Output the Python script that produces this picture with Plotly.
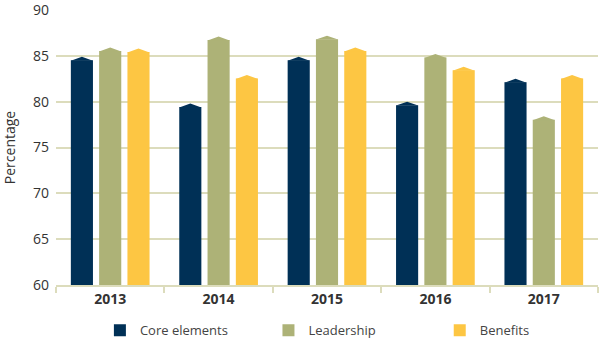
import plotly.graph_objects as go

years = ["2013", "2014", "2015", "2016", "2017"]
series_names = ["Core elements", "Leadership", "Benefits"]
core = [84.9, 79.8, 84.9, 80.0, 82.5]
leadership = [85.9, 87.1, 87.2, 85.2, 78.4]
benefits = [85.8, 82.9, 85.9, 83.8, 82.9]
colors = ["#003056", "#adb277", "#fdc643"]

values = [core, leadership, benefits]
legend_ids = ["legend", "legend2", "legend3"]
legend_x = [0.081, 0.392, 0.708]
bar_w = 0.204
spacing = 0.261
peak = 0.38

fig = go.Figure()
for i, (name, vals, col) in enumerate(zip(series_names, values, colors)):
    off = (i - 1) * spacing
    xs = [k + off for k in range(len(years))]
    fig.add_trace(go.Bar(
        x=xs, y=[v - peak for v in vals], width=bar_w, name=name,
        legend=legend_ids[i],
        marker=dict(color=col, line=dict(width=0)), hoverinfo="skip"))
    px, py = [], []
    for x, v in zip(xs, vals):
        px += [x - bar_w / 2, x, x + bar_w / 2, x - bar_w / 2, None]
        py += [v - peak - 0.05, v, v - peak - 0.05, v - peak - 0.05, None]
    fig.add_trace(go.Scatter(
        x=px, y=py, mode="lines", fill="toself", fillcolor=col,
        line=dict(width=0, color=col), showlegend=False, hoverinfo="skip"))

grid = "#dcdcbc"
leg_common = dict(orientation="h", xanchor="left", y=-0.165, yanchor="middle",
                  font=dict(size=13, color="#444444"), bgcolor="rgba(0,0,0,0)")
layout_legends = {lid: dict(x=lx, **leg_common) for lid, lx in zip(legend_ids, legend_x)}

fig.update_layout(
    width=600, height=340,
    margin=dict(l=56, r=2, t=10, b=55, autoexpand=False),
    plot_bgcolor="white", paper_bgcolor="white",
    font=dict(family="Open Sans", size=13, color="#333333"),
    barmode="overlay", showlegend=True,
    xaxis=dict(range=[-0.5, 4.5], tickvals=list(range(len(years))), ticktext=years,
               ticks="", showgrid=False, zeroline=False,
               showline=True, linecolor=grid, linewidth=1.5,
               tickfont=dict(size=14, color="#333333", family="Open Sans", weight="bold"),
               minor=dict(tick0=-0.5, dtick=1, ticks="outside", ticklen=6,
                          tickcolor=grid, tickwidth=1.5, showgrid=False)),
    yaxis=dict(range=[60, 90], dtick=5, showgrid=True, gridcolor=grid, gridwidth=1.5,
               zeroline=False, showline=False, ticks="", ticklabelstandoff=6,
               ticklabeloverflow="allow",
               tickfont=dict(size=14, color="#333333"),
               title=dict(text="Percentage", font=dict(size=14, color="#333333"), standoff=14)),
    **layout_legends,
)

fig.write_html("out.html")
